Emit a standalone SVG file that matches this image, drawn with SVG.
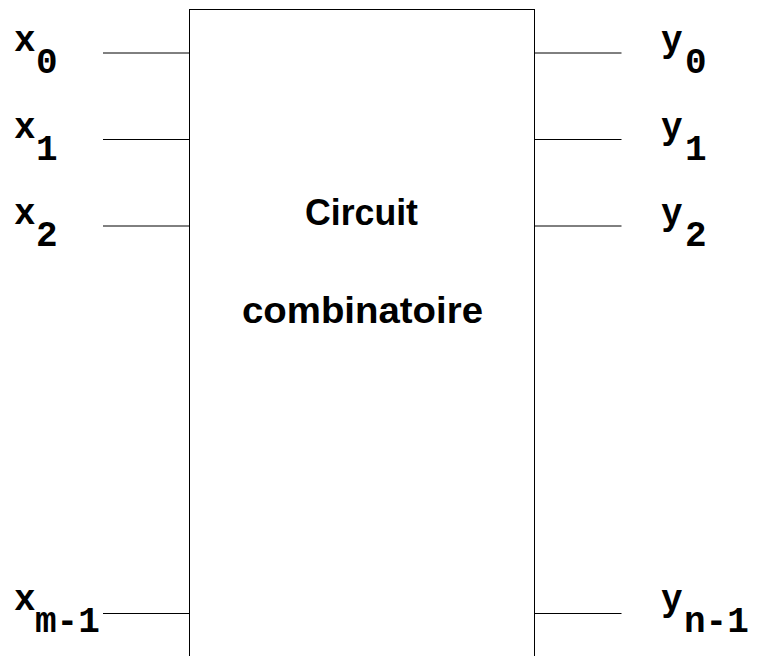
<svg xmlns="http://www.w3.org/2000/svg" width="759" height="656" viewBox="0 0 759 656">
  <style>
    .wire { stroke: #000; stroke-width: 1; fill: none; }
    .box { stroke: #000; stroke-width: 1; fill: #fff; }
    .sig { font-family: "Liberation Mono", "Courier New", monospace; font-weight: bold; font-size: 36px; fill: #000; }
    .title { font-family: "Liberation Sans", Arial, sans-serif; font-weight: bold; font-size: 37px; fill: #000; text-anchor: middle; }
  </style>
  <rect width="759" height="656" fill="#fff"/>

  <!-- combinational block (open at the bottom edge) -->
  <g id="circuit">
    <rect class="box" x="189.5" y="9.5" width="345" height="660"/>
    <text class="title" x="361.5" y="225" textLength="113" lengthAdjust="spacingAndGlyphs">Circuit</text>
    <text class="title" x="362.5" y="323" textLength="241" lengthAdjust="spacingAndGlyphs">combinatoire</text>
  </g>

  <!-- input and output wires -->
  <g id="connectors">
    <line class="wire" x1="103" y1="53" x2="189.5" y2="53"/>
    <line class="wire" x1="103" y1="139.5" x2="189.5" y2="139.5"/>
    <line class="wire" x1="103" y1="226" x2="189.5" y2="226"/>
    <line class="wire" x1="103" y1="613.5" x2="189.5" y2="613.5"/>
    <line class="wire" x1="534.5" y1="53" x2="621.5" y2="53"/>
    <line class="wire" x1="534.5" y1="139.5" x2="621.5" y2="139.5"/>
    <line class="wire" x1="534.5" y1="226" x2="621.5" y2="226"/>
    <line class="wire" x1="534.5" y1="613.5" x2="621.5" y2="613.5"/>
  </g>

  <!-- inputs -->
  <g id="x0"><text class="sig"><tspan x="14" y="51">x</tspan><tspan x="36" y="73">0</tspan></text></g>
  <g id="x1"><text class="sig"><tspan x="14" y="137.5">x</tspan><tspan x="36" y="159.5">1</tspan></text></g>
  <g id="x2"><text class="sig"><tspan x="14" y="224">x</tspan><tspan x="36" y="246">2</tspan></text></g>
  <g id="xm1"><text class="sig"><tspan x="14" y="610">x</tspan><tspan x="35" y="632">m-1</tspan></text></g>

  <!-- outputs -->
  <g id="y0"><text class="sig"><tspan x="661" y="51">y</tspan><tspan x="685" y="73">0</tspan></text></g>
  <g id="y1"><text class="sig"><tspan x="661" y="137.5">y</tspan><tspan x="685" y="159.5">1</tspan></text></g>
  <g id="y2"><text class="sig"><tspan x="661" y="224">y</tspan><tspan x="685" y="246">2</tspan></text></g>
  <g id="yn1"><text class="sig"><tspan x="661" y="610">y</tspan><tspan x="684" y="632">n-1</tspan></text></g>
</svg>
